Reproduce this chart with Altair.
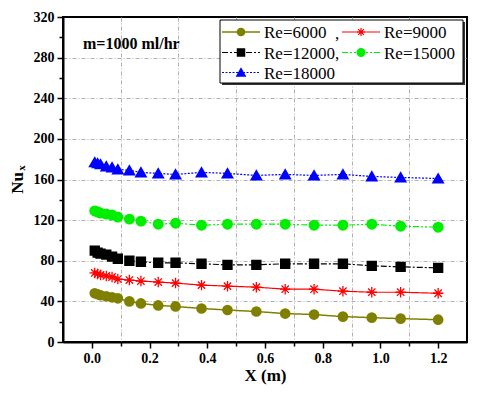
import altair as alt
import pandas as pd

# ---- data ----
x_m = [0.01, 0.02, 0.03, 0.05, 0.07, 0.09, 0.13, 0.17, 0.23, 0.29, 0.38, 0.47,
       0.57, 0.67, 0.77, 0.87, 0.97, 1.07, 1.2]
nu_6000 = [48, 47, 46, 45, 44, 43, 40, 38, 36, 35, 33, 31.5, 30, 28, 27, 25, 24, 23, 22]
nu_9000 = [68, 67, 66, 65, 64, 62, 61, 60, 59, 58, 56, 55, 54, 52, 52, 50, 49, 49, 48]
nu_12000 = [90, 88, 87, 86, 84, 82, 80, 79, 78, 78, 77, 76, 76, 77, 77, 77, 75, 74, 73]
nu_15000 = [129, 128, 127, 126, 125, 123, 121, 119, 116, 117, 115, 116, 116, 116, 115, 115, 116, 114, 113]
nu_18000 = [177, 176, 175, 173, 172, 170, 169, 167, 166, 165, 167, 166, 164, 165, 164, 165, 163, 162, 161]

series_names = ["Re=6000", "Re=9000", "Re=12000", "Re=15000", "Re=18000"]
legend_labels = ["Re=6000", "Re=9000", "Re=12000,", "Re=15000", "Re=18000"]
series_values = [nu_6000, nu_9000, nu_12000, nu_15000, nu_18000]

rows = []
for name, vals in zip(series_names, series_values):
    for xv, yv in zip(x_m, vals):
        rows.append({"x": xv, "nu": yv, "series": name})
df = pd.DataFrame(rows)

ASTER = "M-1,0L1,0M0,-1L0,1M-0.7,-0.7L0.7,0.7M-0.7,0.7L0.7,-0.7"
styles = {
    "Re=6000": dict(color="#808000", dash=[1, 0], shape="circle", filled=True, size=75, lw=1.5),
    "Re=9000": dict(color="#ff0000", dash=[1, 0], shape=ASTER, filled=False, size=110, lw=1.2),
    "Re=12000": dict(color="#000000", dash=[6, 2, 2, 2], shape="square", filled=True, size=70, lw=1.2),
    "Re=15000": dict(color="#00ee00", dash=[6, 2, 2, 2, 2, 2], shape="circle", filled=True, size=80, lw=1.2),
    "Re=18000": dict(color="#0000ff", dash=[2, 1.5], shape="triangle-up", filled=True, size=90, lw=1.2),
}

SERIF = "Times New Roman, Liberation Serif, serif"

x_axis = alt.Axis(
    values=[round(0.1 * i, 1) for i in range(0, 13)],
    labelExpr="round(datum.value*10) % 2 == 0 ? format(datum.value, '.1f') : ''",
    tickSize={"condition": {"test": "round(datum.value*10) % 2 == 0", "value": 6}, "value": 4},
    gridOpacity={"condition": {"test": "round(datum.value*10) % 2 == 1", "value": 1}, "value": 0},
    title="X (m)", titleFontSize=17, titleFont=SERIF, titleFontWeight="bold", titlePadding=2,
)
y_axis = alt.Axis(
    values=list(range(0, 321, 20)),
    labelExpr="datum.value % 40 == 0 ? '' + datum.value : ''",
    tickSize={"condition": {"test": "datum.value % 40 == 0", "value": 6}, "value": 4},
    gridOpacity={"condition": {"test": "datum.value % 40 == 0 && datum.value > 0 && datum.value < 320", "value": 1}, "value": 0},
    title=None,
)
x_enc = alt.X("x:Q", scale=alt.Scale(domain=[-0.1, 1.3], nice=False, zero=False), axis=x_axis)
y_enc = alt.Y("nu:Q", scale=alt.Scale(domain=[0, 320], nice=False), axis=y_axis)

layers = []
for name in series_names:
    st = styles[name]
    sub = alt.Chart(df).transform_filter(alt.datum.series == name)
    layers.append(sub.mark_line(color=st["color"], strokeDash=st["dash"], strokeWidth=st["lw"]).encode(x=x_enc, y=y_enc))
    if st["filled"]:
        pt = sub.mark_point(shape=st["shape"], filled=True, fill=st["color"], stroke=st["color"], size=st["size"], opacity=1)
    else:
        pt = sub.mark_point(shape=st["shape"], filled=False, stroke=st["color"], strokeWidth=1.3, size=st["size"], opacity=1)
    layers.append(pt.encode(x=x_enc, y=y_enc))

one = alt.Data(values=[{}])

# annotation text
layers.append(alt.Chart(one).mark_text(text="m=1000 ml/hr", font=SERIF, fontSize=16, fontWeight="bold",
                                       align="left", baseline="middle", color="black")
              .encode(x=alt.value(20), y=alt.value(27)))
# y title Nu_x
layers.append(alt.Chart(one).mark_text(text="Nu", font=SERIF, fontSize=17, fontWeight="bold", angle=270,
                                       align="center", baseline="middle", color="black")
              .encode(x=alt.value(-45), y=alt.value(166)))
layers.append(alt.Chart(one).mark_text(text="x", font=SERIF, fontSize=11, fontWeight="bold", angle=270,
                                       align="center", baseline="middle", color="black")
              .encode(x=alt.value(-41), y=alt.value(151)))

# legend box with shadow
layers.append(alt.Chart(one).mark_rect(fill="#333333").encode(
    x=alt.value(159), x2=alt.value(402), y=alt.value(5), y2=alt.value(68)))
layers.append(alt.Chart(one).mark_rect(fill="white", stroke="black", strokeWidth=1).encode(
    x=alt.value(157), x2=alt.value(400), y=alt.value(3), y2=alt.value(66)))

row_y = [15, 15, 35.5, 35.5, 55.5]
col_x = [159, 279, 159, 279, 159]
for name, lab, cx, ry in zip(series_names, legend_labels, col_x, row_y):
    st = styles[name]
    layers.append(alt.Chart(one).mark_rule(color=st["color"], strokeDash=st["dash"], strokeWidth=st["lw"]).encode(
        x=alt.value(cx), x2=alt.value(cx + 38), y=alt.value(ry)))
    if st["filled"]:
        pm = alt.Chart(one).mark_point(shape=st["shape"], filled=True, fill=st["color"], stroke=st["color"],
                                       size=st["size"] * 0.6, opacity=1)
    else:
        pm = alt.Chart(one).mark_point(shape=st["shape"], filled=False, stroke=st["color"], strokeWidth=1.2,
                                       size=st["size"] * 0.6, opacity=1)
    layers.append(pm.encode(x=alt.value(cx + 19), y=alt.value(ry)))
    layers.append(alt.Chart(one).mark_text(text=lab, font=SERIF, fontSize=17, align="left", baseline="middle",
                                           color="black").encode(x=alt.value(cx + 42), y=alt.value(ry + 1)))
# stray comma after Re=6000
layers.append(alt.Chart(one).mark_text(text=",", font=SERIF, fontSize=17, align="left", baseline="middle",
                                       color="black").encode(x=alt.value(272), y=alt.value(17)))

chart = alt.layer(*layers).properties(
    width=404, height=325,
    autosize=alt.AutoSizeParams(type="none"),
    padding={"left": 55, "top": 9, "right": 4, "bottom": 45},
).configure_view(
    stroke="black", strokeWidth=2
).configure_axis(
    labelFont=SERIF, labelFontWeight="bold", labelFontSize=14, labelColor="black",
    domainColor="black", domainWidth=2, tickColor="black", tickWidth=1.5,
    gridColor="#b0b0b0", gridDash=[4, 2, 1, 2], gridWidth=1, labelPadding=3,
)

chart.save("out.html", embed_options={"renderer": "svg", "actions": False})
